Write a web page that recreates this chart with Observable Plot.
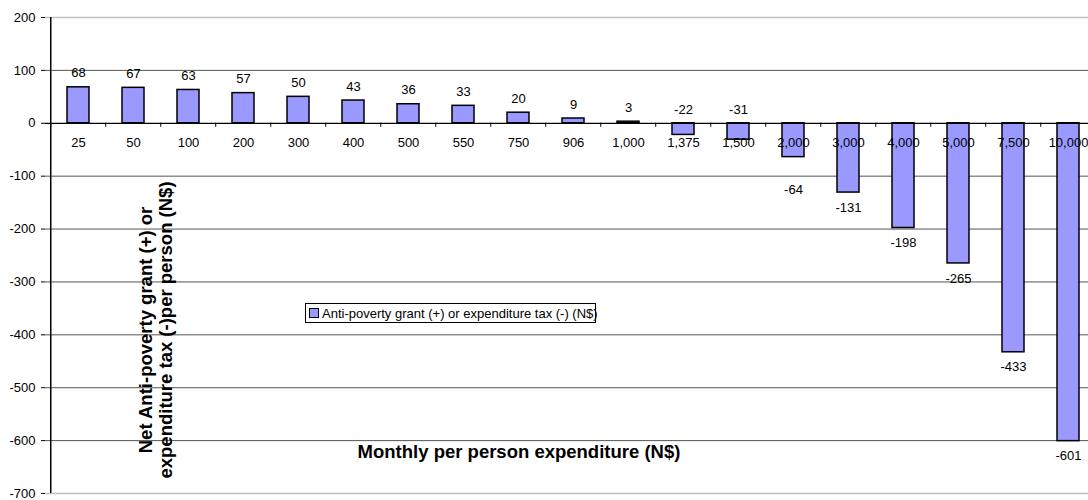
<!DOCTYPE html>
<html>
<head>
<meta charset="utf-8">
<script src="https://cdn.jsdelivr.net/npm/d3@7"></script>
<script src="https://cdn.jsdelivr.net/npm/@observablehq/plot@0.6"></script>
<style>
  html, body { margin: 0; padding: 0; background: #fff; overflow: hidden; }
  #wrap { position: relative; width: 1088px; height: 500px; overflow: hidden; font-family: "Liberation Sans", Arial, sans-serif; }
  #wrap > svg { max-width: none !important; width: 1100px !important; height: 500px !important; display: block; }
  #legend { position: absolute; left: 305px; top: 303px; width: 291px; height: 20px; box-sizing: border-box;
            border: 1px solid #000; background: #fff; font-size: 13px; display: flex; align-items: center; white-space: nowrap; }
  #legend .sw { width: 8px; height: 8px; border: 1px solid #000; background: #9999ff; margin: 0 3px 0 3px; flex: none; }
</style>
</head>
<body>
<div id="wrap"></div>
<script>
// ---- data ----
const categories = ["25","50","100","200","300","400","500","550","750","906","1,000","1,375","1,500","2,000","3,000","4,000","5,000","7,500","10,000"];
const values = [68,67,63,57,50,43,36,33,20,9,3,-22,-31,-64,-131,-198,-265,-433,-601];
const yTicks = [200,100,0,-100,-200,-300,-400,-500,-600,-700];
const gridValues = [100,-100,-200,-300,-400,-500,-600];
const borderValues = [200,-700];
const seriesName = "Anti-poverty grant (+) or expenditure tax (-) (N$)";
const xTitle = "Monthly per person expenditure (N$)";
const yTitleLines = ["Net Anti-poverty grant (+) or", "expenditure tax (-)per person (N$)"];

const rows = categories.map((c, i) => ({cat: c, v: values[i]}));

// ---- layout ----
const W = 1100, H = 500, mL = 45, mR = 0, mT = 17, mB = 7;
const step = (W - mL - mR) / categories.length;
const yDomain = [-700, 200];
const pxPerUnit = (H - mT - mB) / (yDomain[1] - yDomain[0]);
const tickUnits = 4 / pxPerUnit;

// label placement rule: positive above bar; small negatives above zero line;
// mid negatives pushed below the next gridline; otherwise below bar end
const labelRows = rows.map(d => {
  if (d.v >= 0) return {...d, y: d.v, off: -14};
  if (d.v > -50) return {...d, y: 0, off: -13};
  if (d.v > -100) return {...d, y: d.v, off: 33};
  return {...d, y: d.v, off: 15};
});

const plot = Plot.plot({
  width: W, height: H,
  marginLeft: mL, marginRight: mR, marginTop: mT, marginBottom: mB,
  style: {fontFamily: '"Liberation Sans", Arial, sans-serif', fontSize: "13px", color: "#000", background: "#fff", overflow: "visible"},
  x: {type: "band", domain: categories, paddingInner: 0.6, paddingOuter: 0.3, axis: null},
  y: {domain: yDomain, axis: null},
  marks: [
    Plot.ruleY(borderValues, {stroke: "#c0c0c0", strokeWidth: 1.5}),
    Plot.ruleY(gridValues, {stroke: "#555", strokeWidth: 1}),
    Plot.barY(rows, {x: "cat", y: "v", fill: "#9999ff", stroke: "#000", strokeWidth: 1.5}),
    Plot.ruleY([0], {stroke: "#000", strokeWidth: 1.2}),
    Plot.ruleX(categories, {x: d => d, y1: 0, y2: -tickUnits, dx: -step / 2, stroke: "#000", strokeWidth: 1}),
    Plot.ruleX([categories[0]], {x: d => d, y1: yDomain[0], y2: yDomain[1], dx: -step / 2, stroke: "#000", strokeWidth: 1.5}),
    Plot.axisY({ticks: yTicks, tickSize: 4, tickPadding: 6, tickFormat: d => String(d), fontSize: 13, stroke: "#000"}),
    Plot.text(rows, {x: "cat", y: 0, text: "cat", dy: 20, fontSize: 13, fill: "#000", lineAnchor: "middle"}),
    Plot.text(labelRows, {x: "cat", y: "y", text: d => String(d.v), fontSize: 13, fill: "#000", lineAnchor: "middle"})
  ]
});
plot.style.maxWidth = "none";
document.getElementById("wrap").appendChild(plot);

{
  const svg = d3.select(plot);
  // per-label offsets (Plot's dy is a constant)
  const groups = svg.selectAll("g[aria-label='text']").nodes();
  const lblGroup = groups[groups.length - 1];
  d3.select(lblGroup).selectAll("text").each(function(_, i) {
    const t = d3.select(this);
    const tr = t.attr("transform") || "";
    t.attr("transform", tr + ` translate(0,${labelRows[i].off})`);
  });

  // axis titles
  svg.append("text")
    .attr("x", 519).attr("y", 458)
    .attr("text-anchor", "middle")
    .attr("font-weight", "bold").attr("font-size", 18.5)
    .attr("fill", "#000")
    .text(xTitle);
  const yc = 330;
  [[152, yTitleLines[0]], [172, yTitleLines[1]]].forEach(([bx, s]) => {
    svg.append("text")
      .attr("transform", `translate(${bx},${yc}) rotate(-90)`)
      .attr("text-anchor", "middle")
      .attr("font-weight", "bold").attr("font-size", 18.5)
      .attr("fill", "#000")
      .text(s);
  });
}

// legend
const lg = document.createElement("div");
lg.id = "legend";
lg.innerHTML = '<span class="sw"></span><span></span>';
lg.lastChild.textContent = seriesName;
document.getElementById("wrap").appendChild(lg);
</script>
</body>
</html>
